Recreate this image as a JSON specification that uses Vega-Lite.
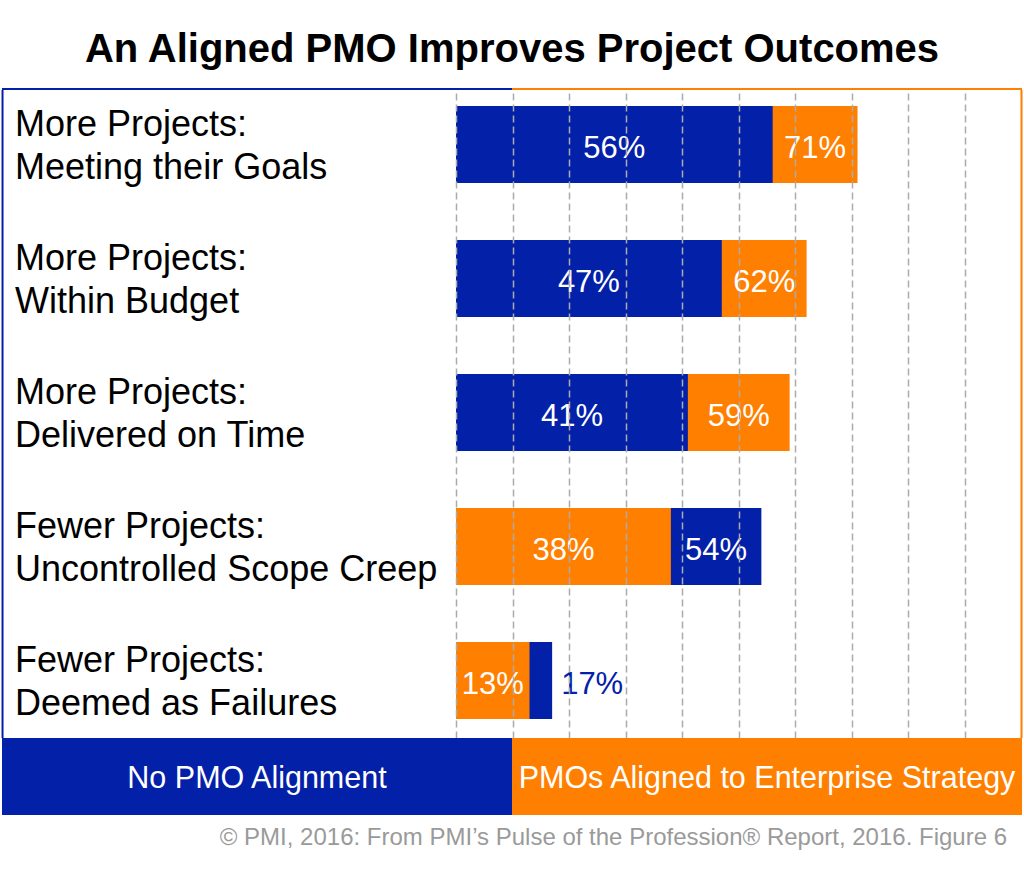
{
  "$schema": "https://vega.github.io/schema/vega-lite/v6.json",
  "background": "white",
  "padding": {"top": 30, "left": 0, "right": 0, "bottom": 0},
  "config": {"view": {"stroke": null}, "font": "Liberation Sans"},
  "title": {"text": "An Aligned PMO Improves Project Outcomes", "fontSize": 40, "fontWeight": "bold", "font": "Liberation Sans", "color": "#000000", "anchor": "middle", "offset": 18},
  "datasets": {
    "outcomes": [
      {"category": "More Projects:\nMeeting their Goals", "group": "No PMO Alignment", "value": 0.56},
      {"category": "More Projects:\nMeeting their Goals", "group": "PMOs Aligned to Enterprise Strategy", "value": 0.71},
      {"category": "More Projects:\nWithin Budget", "group": "No PMO Alignment", "value": 0.47},
      {"category": "More Projects:\nWithin Budget", "group": "PMOs Aligned to Enterprise Strategy", "value": 0.62},
      {"category": "More Projects:\nDelivered on Time", "group": "No PMO Alignment", "value": 0.41},
      {"category": "More Projects:\nDelivered on Time", "group": "PMOs Aligned to Enterprise Strategy", "value": 0.59},
      {"category": "Fewer Projects:\nUncontrolled Scope Creep", "group": "No PMO Alignment", "value": 0.54},
      {"category": "Fewer Projects:\nUncontrolled Scope Creep", "group": "PMOs Aligned to Enterprise Strategy", "value": 0.38},
      {"category": "Fewer Projects:\nDeemed as Failures", "group": "No PMO Alignment", "value": 0.17},
      {"category": "Fewer Projects:\nDeemed as Failures", "group": "PMOs Aligned to Enterprise Strategy", "value": 0.13}
    ],
    "groups": [
      {"group": "No PMO Alignment"},
      {"group": "PMOs Aligned to Enterprise Strategy"}
    ],
    "note": [
      {"note": "© PMI, 2016:  From PMI’s Pulse of the Profession® Report, 2016. Figure 6"}
    ]
  },
  "spacing": 0,
  "bounds": "flush",
  "resolve": {"scale": {"x": "independent", "y": "independent"}},
  "vconcat": [
    {
      "width": 1024,
      "height": 2,
      "data": {"name": "groups"},
      "mark": {"type": "rect"},
      "encoding": {
        "x": {"field": "group", "type": "nominal", "axis": null, "scale": {"domain": ["No PMO Alignment", "PMOs Aligned to Enterprise Strategy"], "paddingInner": 0, "paddingOuter": 0.0039}},
        "color": {"field": "group", "type": "nominal", "legend": null, "scale": {"domain": ["No PMO Alignment", "PMOs Aligned to Enterprise Strategy"], "range": ["#0320A8", "#FF7F00"]}}
      }
    },
    {
      "width": 1024,
      "height": 648,
      "data": {"name": "outcomes"},
      "layer": [
        {
          "mark": {"type": "bar"},
          "encoding": {
            "x": {"field": "value", "type": "quantitative", "stack": null, "title": null,
                  "scale": {"domain": [-0.80637, 1.00442], "nice": false, "zero": false},
                  "axis": {"values": [0, 0.1, 0.2, 0.3, 0.4, 0.5, 0.6, 0.7, 0.8, 0.9], "grid": true, "gridColor": "#ABABAB", "gridDash": [7, 4], "gridWidth": 1.5, "labels": false, "ticks": false, "domain": false, "title": null, "zindex": 1}},
            "y": {"field": "category", "type": "nominal", "axis": null,
                  "scale": {"domain": ["More Projects:\nMeeting their Goals", "More Projects:\nWithin Budget", "More Projects:\nDelivered on Time", "Fewer Projects:\nUncontrolled Scope Creep", "Fewer Projects:\nDeemed as Failures"], "paddingInner": 0.4254, "paddingOuter": 0.1306, "align": 0.457}},
            "color": {"field": "group", "type": "nominal", "legend": null, "scale": {"domain": ["No PMO Alignment", "PMOs Aligned to Enterprise Strategy"], "range": ["#0320A8", "#FF7F00"]}},
            "order": {"field": "value", "type": "quantitative", "sort": "descending"}
          }
        },
        {
          "transform": [{"filter": {"field": "group", "equal": "No PMO Alignment"}}],
          "mark": {"type": "text", "align": "left", "baseline": "middle", "dy": -19, "fontSize": 36, "lineHeight": 43, "lineBreak": "\n", "color": "#000000"},
          "encoding": {
            "x": {"datum": -0.7798, "type": "quantitative", "title": null},
            "y": {"field": "category", "type": "nominal", "axis": null},
            "text": {"field": "category", "type": "nominal"}
          }
        },
        {
          "transform": [
            {"joinaggregate": [{"op": "min", "field": "value", "as": "smaller"}], "groupby": ["category"]},
            {"filter": "datum.value === datum.smaller"}
          ],
          "mark": {"type": "text", "baseline": "middle", "align": "center", "dy": 5, "fontSize": 31, "color": "#FFFFFF"},
          "encoding": {
            "x": {"field": "value", "type": "quantitative", "stack": "zero", "bandPosition": 0.5, "title": null},
            "y": {"field": "category", "type": "nominal", "axis": null},
            "text": {"field": "value", "type": "quantitative", "format": ".0%"}
          }
        },
        {
          "transform": [{"filter": {"not": {"field": "category", "equal": "Fewer Projects:\nDeemed as Failures"}}}],
          "mark": {"type": "text", "baseline": "middle", "align": "center", "dy": 5, "fontSize": 31, "color": "#FFFFFF"},
          "encoding": {
            "x": {"aggregate": "mean", "field": "value", "type": "quantitative", "title": null},
            "y": {"field": "category", "type": "nominal", "axis": null},
            "text": {"aggregate": "max", "field": "value", "type": "quantitative", "format": ".0%"}
          }
        },
        {
          "transform": [{"filter": {"and": [{"field": "category", "equal": "Fewer Projects:\nDeemed as Failures"}, {"field": "group", "equal": "No PMO Alignment"}]}}],
          "mark": {"type": "text", "baseline": "middle", "align": "left", "dx": 9, "dy": 5, "fontSize": 31, "color": "#0320A8"},
          "encoding": {
            "x": {"field": "value", "type": "quantitative", "title": null},
            "y": {"field": "category", "type": "nominal", "axis": null},
            "text": {"field": "value", "type": "quantitative", "format": ".0%"}
          }
        },
        {
          "data": {"values": [{}]},
          "mark": {"type": "rule", "color": "#0320A8", "strokeWidth": 2},
          "encoding": {
            "x": {"datum": -0.8019, "type": "quantitative", "title": null}
          }
        },
        {
          "data": {"values": [{}]},
          "mark": {"type": "rule", "color": "#FF7F00", "strokeWidth": 2},
          "encoding": {
            "x": {"datum": 1.0, "type": "quantitative", "title": null}
          }
        }
      ]
    },
    {
      "width": 1024,
      "height": 77,
      "data": {"name": "groups"},
      "layer": [
        {
          "mark": {"type": "rect"},
          "encoding": {
            "x": {"field": "group", "type": "nominal", "axis": null, "scale": {"domain": ["No PMO Alignment", "PMOs Aligned to Enterprise Strategy"], "paddingInner": 0, "paddingOuter": 0.0039}},
            "color": {"field": "group", "type": "nominal", "legend": null, "scale": {"domain": ["No PMO Alignment", "PMOs Aligned to Enterprise Strategy"], "range": ["#0320A8", "#FF7F00"]}}
          }
        },
        {
          "mark": {"type": "text", "baseline": "middle", "align": "center", "dy": 2, "fontSize": 30.5, "color": "#FFFFFF"},
          "encoding": {
            "x": {"field": "group", "type": "nominal", "axis": null},
            "text": {"field": "group", "type": "nominal"}
          }
        }
      ]
    },
    {
      "width": 1024,
      "height": 45,
      "data": {"name": "note"},
      "mark": {"type": "text", "align": "right", "baseline": "middle", "fontSize": 24, "color": "#9A9A9A"},
      "encoding": {
        "x": {"datum": 0.9744, "type": "quantitative", "axis": null, "scale": {"domain": [-0.80637, 1.00442], "nice": false, "zero": false}},
        "text": {"field": "note", "type": "nominal"}
      }
    }
  ]
}
